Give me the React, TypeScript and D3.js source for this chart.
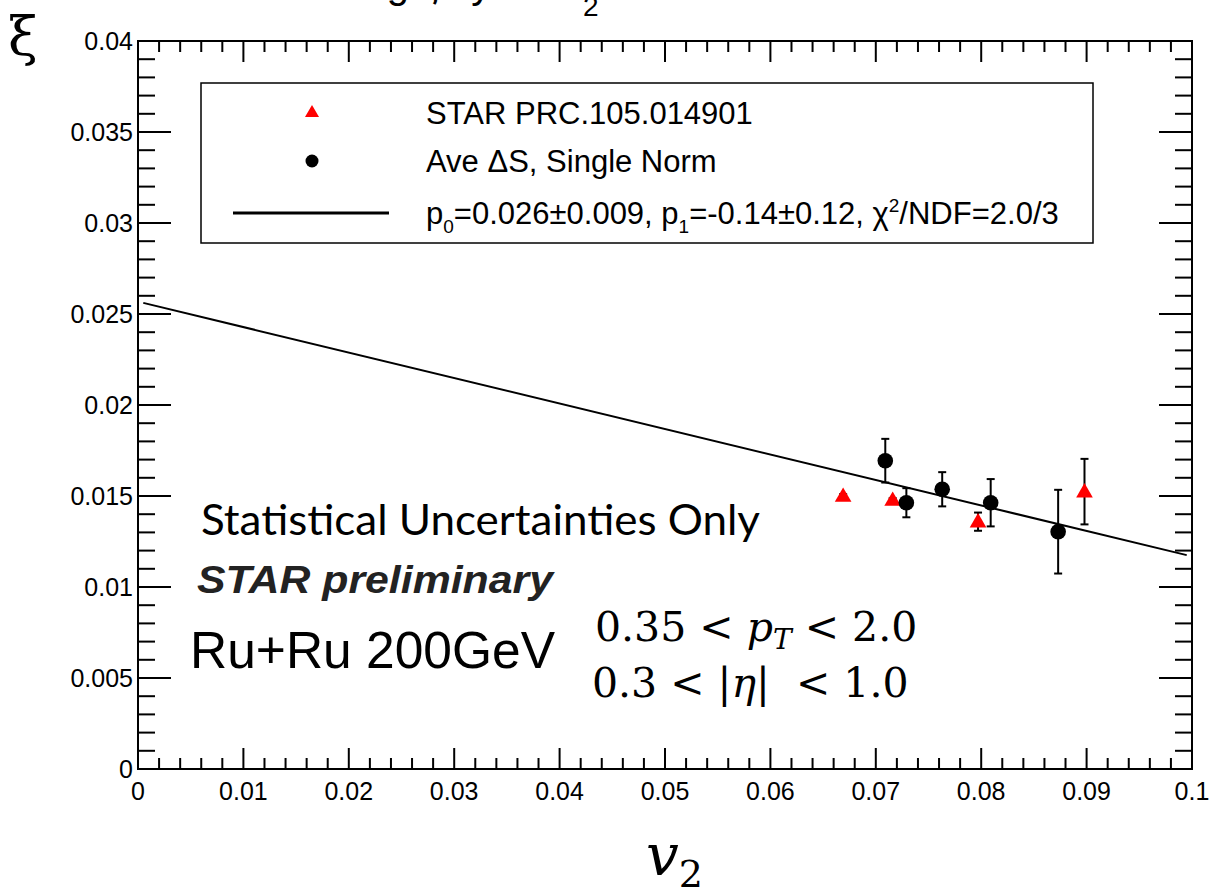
import React from 'react';
import * as d3 from 'd3';

const W = 1211;
const H = 889;
const margin = { top: 41, right: 19, bottom: 120, left: 138 };

// STAR PRC.105.014901 (red triangles)
const starV2 = [0.0669, 0.0716, 0.0797, 0.0898];
const starXi = [0.015, 0.01478, 0.01359, 0.01524];
const starErr = [0.0001, 0.0001, 0.0005, 0.0018];

// Ave ΔS, Single Norm (black circles)
const aveV2 = [0.0709, 0.0729, 0.0763, 0.0809, 0.0873];
const aveXi = [0.01694, 0.01463, 0.01537, 0.01463, 0.01304];
const aveErr = [0.0012, 0.0008, 0.00094, 0.0013, 0.0023];

// linear fit xi = p0 + p1 * v2, drawn over its range
const fitPars = [0.02568, -0.14];
const fitRange = [0.0005, 0.0995];

const xTickLabels = ['0', '0.01', '0.02', '0.03', '0.04', '0.05', '0.06', '0.07', '0.08', '0.09', '0.1'];
const yTickLabels = ['0', '0.005', '0.01', '0.015', '0.02', '0.025', '0.03', '0.035', '0.04'];

const legendLabels = ['STAR PRC.105.014901', 'Ave \u0394S, Single Norm'];

const sans = '"Liberation Sans", Arial, sans-serif';
const serif = '"DejaVu Serif", "Liberation Serif", serif';

const App = () => {
  const x = d3.scaleLinear().domain([0, 0.1]).range([margin.left, W - margin.right]);
  const y = d3.scaleLinear().domain([0, 0.04]).range([H - margin.bottom, margin.top]);
  const [x0, x1] = x.range();
  const [y0, y1] = y.range();

  const xMajor = x.ticks(10);
  const xMinor = x.ticks(50);
  const yMajor = y.ticks(8);
  const yMinor = y.ticks(40);

  const fitLine = d3
    .line<number>()
    .x(v => x(v))
    .y(v => y(fitPars[0] + fitPars[1] * v));

  const tri = d3.symbol().type(d3.symbolTriangle).size(120)();
  const stars = starV2.map((v, i) => ({ v, xi: starXi[i], e: starErr[i] }));
  const aves = aveV2.map((v, i) => ({ v, xi: aveXi[i], e: aveErr[i] }));

  const errBar = (d, key) => (
    <g key={key} stroke="#000" strokeWidth={2}>
      <line x1={x(d.v)} x2={x(d.v)} y1={y(d.xi - d.e)} y2={y(d.xi + d.e)} />
      <line x1={x(d.v) - 4} x2={x(d.v) + 4} y1={y(d.xi - d.e)} y2={y(d.xi - d.e)} />
      <line x1={x(d.v) - 4} x2={x(d.v) + 4} y1={y(d.xi + d.e)} y2={y(d.xi + d.e)} />
    </g>
  );

  return (
    <svg width={W} height={H} style={{ position: 'absolute', left: 0, top: 0, background: '#fff' }}>
      {/* title, mostly cut off by the top edge as in the original */}
      <text x={300} y={-2} fontFamily={sans} fontSize={40} fill="#000">
        Fitting {'\u03BE'} by v<tspan x={583} y={16} fontSize={28}>2</tspan>
      </text>

      {/* ticks */}
      <g stroke="#000" strokeWidth={2}>
        {xMinor.map((t, i) => {
          const len = xMajor.some(m => Math.abs(m - t) < 1e-9) ? 21 : 11;
          return (
            <g key={'xt' + i}>
              <line x1={x(t)} x2={x(t)} y1={y0} y2={y0 - len} />
              <line x1={x(t)} x2={x(t)} y1={y1} y2={y1 + len} />
            </g>
          );
        })}
        {yMinor.map((t, i) => {
          const len = yMajor.some(m => Math.abs(m - t) < 1e-9) ? 33 : 17;
          return (
            <g key={'yt' + i}>
              <line x1={x0} x2={x0 + len} y1={y(t)} y2={y(t)} />
              <line x1={x1} x2={x1 - len} y1={y(t)} y2={y(t)} />
            </g>
          );
        })}
      </g>
      <rect x={x0} y={y1} width={x1 - x0} height={y0 - y1} fill="none" stroke="#000" strokeWidth={2} />

      {/* tick labels */}
      <g fontFamily={sans} fontSize={25} fill="#000">
        {xMajor.map((t, i) => (
          <text key={'xl' + i} x={x(t)} y={y0 + 31} textAnchor="middle">
            {xTickLabels[i]}
          </text>
        ))}
        {yMajor.map((t, i) => (
          <text key={'yl' + i} x={x0 - 5} y={y(t) + 9} textAnchor="end">
            {yTickLabels[i]}
          </text>
        ))}
      </g>

      {/* axis titles */}
      <text x={8} y={55} fontFamily={serif} fontSize={54} fill="#000">{'\u03BE'}</text>
      <text x={646} y={875} fontFamily={serif} fontSize={58} fontStyle="italic" fill="#000">
        v<tspan dy={12} fontSize={38} fontStyle="normal">2</tspan>
      </text>

      {/* fit */}
      <path d={fitLine(fitRange)} fill="none" stroke="#000" strokeWidth={2} />

      {/* data */}
      {stars.map((d, i) => errBar(d, 'se' + i))}
      {aves.map((d, i) => errBar(d, 'ae' + i))}
      {stars.map((d, i) => (
        <path key={'s' + i} d={tri} transform={`translate(${x(d.v)},${y(d.xi) + 1})`} fill="#f00" />
      ))}
      {aves.map((d, i) => (
        <circle key={'a' + i} cx={x(d.v)} cy={y(d.xi)} r={7.8} fill="#000" />
      ))}

      {/* legend */}
      <rect x={201} y={83} width={892} height={160} fill="#fff" stroke="#000" strokeWidth={1.5} />
      <path d={d3.symbol().type(d3.symbolTriangle).size(85)()} transform="translate(312,113)" fill="#f00" />
      <circle cx={312} cy={161} r={6.5} fill="#000" />
      <line x1={233} x2={389} y1={213} y2={213} stroke="#000" strokeWidth={3} />
      <g fontFamily={sans} fontSize={31} fill="#000">
        <text x={426} y={124}>{legendLabels[0]}</text>
        <text x={426} y={172}>{legendLabels[1]}</text>
        <text x={426} y={224}>
          p<tspan dy={9} fontSize={19}>0</tspan>
          <tspan dy={-9}>=0.026{'\u00B1'}0.009, p</tspan>
          <tspan dy={9} fontSize={19}>1</tspan>
          <tspan dy={-9}>=-0.14{'\u00B1'}0.12, {'\u03C7'}</tspan>
          <tspan dy={-12} fontSize={19}>2</tspan>
          <tspan dy={12}>/NDF=2.0/3</tspan>
        </text>
      </g>

      {/* annotations */}
      <text x={201} y={535} fontFamily="Lato, sans-serif" fontSize={42} textLength={559} lengthAdjust="spacingAndGlyphs" fill="#000">
        Statistical Uncertainties Only
      </text>
      <text x={197} y={593} fontFamily={sans} fontSize={38} fontWeight="bold" fontStyle="italic" textLength={356} lengthAdjust="spacingAndGlyphs" fill="#222">
        STAR preliminary
      </text>
      <text x={190} y={668} fontFamily={sans} fontSize={52} textLength={365} lengthAdjust="spacingAndGlyphs" fill="#000">
        Ru+Ru 200GeV
      </text>
      <g fontFamily={serif} fontSize={41} fill="#000">
        <text x={595} y={641}>
          0.35 &lt; <tspan fontStyle="italic">p</tspan>
          <tspan dy={8} fontSize={28} fontStyle="italic">T</tspan>
          <tspan dy={-8}> &lt; 2.0</tspan>
        </text>
        <text x={592} y={697}>
          0.3 &lt; |<tspan fontStyle="italic">{'\u03B7'}</tspan>|{'\u00A0\u00A0'}&lt; 1.0
        </text>
      </g>
    </svg>
  );
};

export default App;
